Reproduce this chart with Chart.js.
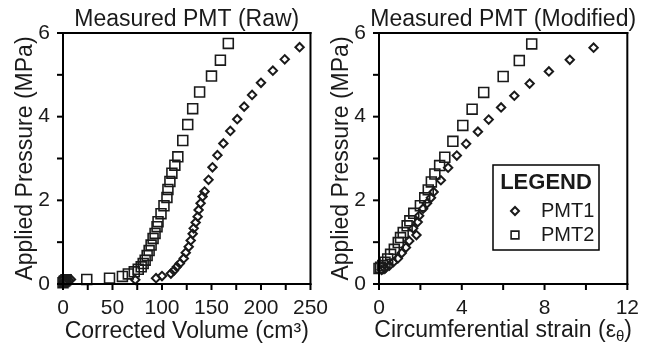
<!DOCTYPE html>
<html>
<head>
<meta charset="utf-8">
<script src="https://cdn.jsdelivr.net/npm/chart.js"></script>
<style>
  body { margin: 0; background: #fff; }
  #wrap { position: relative; width: 651px; height: 347px; }
  canvas { position: absolute; top: 0; }
  #rawChart { left: 0; }
  #modChart { left: 320px; }
</style>
</head>
<body>
<div id="wrap">
  <canvas id="rawChart" width="340" height="347"></canvas>
  <canvas id="modChart" width="331" height="347"></canvas>
</div>
<script>
// Raw panel: corrected volume (cm3) vs applied pressure (MPa)
const rawVolPMT1 = [0, 2, 4, 6, 8, 73, 94, 100, 109, 112, 115, 118, 122, 124, 127, 129, 131, 132, 134, 136, 137, 139, 141, 143, 147, 151, 156, 162, 169, 176, 183, 191, 200, 212, 224, 239];
const rawPresPMT1 = [0.02, 0.04, 0.06, 0.09, 0.11, 0.10, 0.14, 0.19, 0.25, 0.32, 0.41, 0.49, 0.61, 0.75, 0.89, 1.04, 1.20, 1.33, 1.47, 1.61, 1.77, 1.93, 2.09, 2.21, 2.49, 2.79, 3.08, 3.36, 3.66, 3.94, 4.24, 4.52, 4.81, 5.10, 5.37, 5.66];
const rawVolPMT2 = [0, 1, 2, 3, 24, 47, 60, 66, 72, 76, 79, 81, 83, 85, 87, 89, 91, 93, 95, 96, 99, 102, 105, 106, 108, 110, 113, 116, 121, 126, 131, 138, 150, 159, 167];
const rawPresPMT2 = [0.03, 0.06, 0.08, 0.10, 0.11, 0.14, 0.18, 0.24, 0.29, 0.35, 0.41, 0.49, 0.57, 0.68, 0.80, 0.93, 1.09, 1.21, 1.37, 1.49, 1.68, 1.87, 2.07, 2.26, 2.45, 2.65, 2.84, 3.04, 3.43, 3.81, 4.19, 4.59, 4.97, 5.35, 5.75];

// Modified panel: circumferential strain vs applied pressure (MPa)
const modStrainPMT1 = [0.13, 0.29, 0.50, 0.69, 0.91, 1.10, 1.30, 1.46, 1.81, 1.65, 1.87, 1.94, 2.13, 2.32, 2.51, 2.64, 2.99, 3.34, 3.76, 4.21, 4.78, 5.30, 5.90, 6.54, 7.28, 8.21, 9.22, 10.37];
const modPresPMT1 = [0.34, 0.37, 0.44, 0.52, 0.61, 0.74, 0.87, 1.03, 1.17, 1.33, 1.48, 1.63, 1.80, 1.93, 2.06, 2.20, 2.48, 2.78, 3.07, 3.35, 3.64, 3.93, 4.22, 4.50, 4.79, 5.08, 5.36, 5.65];
const modStrainPMT2 = [0, 0.08, 0.18, 0.29, 0.42, 0.56, 0.74, 0.93, 1.04, 1.17, 1.36, 1.49, 1.68, 2.00, 2.21, 2.38, 2.53, 2.70, 2.93, 3.18, 3.57, 4.05, 4.50, 5.06, 6.00, 6.78, 7.38];
const modPresPMT2 = [0.37, 0.40, 0.44, 0.52, 0.60, 0.71, 0.83, 0.99, 1.11, 1.23, 1.39, 1.51, 1.69, 1.87, 2.06, 2.25, 2.44, 2.63, 2.83, 3.03, 3.41, 3.79, 4.18, 4.58, 4.96, 5.34, 5.74];

const seriesNames = ['PMT1', 'PMT2'];
const pressureRange = [0, 6];   // labels every 2, ticks every 1
const volumeRange = [0, 250];   // labels every 50, ticks every 25
const strainRange = [0, 12];    // labels every 4, ticks every 2

const ink = '#000000';
const fontFamily = "'Liberation Sans', Arial, Helvetica, sans-serif";
Chart.defaults.font.family = fontFamily;
Chart.defaults.color = '#1a1a1a';

const pts = (xs, ys) => xs.map((x, i) => ({ x: x, y: ys[i] }));

const diamondStyle = {
  pointStyle: 'rectRot', pointRadius: 4.2, pointBorderWidth: 2,
  borderColor: '#1a1a1a', pointBorderColor: '#1a1a1a',
  backgroundColor: 'rgba(0,0,0,0)', pointBackgroundColor: 'rgba(0,0,0,0)',
  borderWidth: 2, clip: 8
};
const squareStyle = {
  pointStyle: 'rect', pointRadius: 7, pointBorderWidth: 1.6,
  borderColor: '#1a1a1a', pointBorderColor: '#1a1a1a',
  backgroundColor: 'rgba(0,0,0,0)', pointBackgroundColor: 'rgba(0,0,0,0)',
  borderWidth: 1.6, clip: 8
};

// frame, outward ticks and panel title, all from the chart's own scales
const panelFramePlugin = {
  id: 'panelFrame',
  afterDraw(chart, args, opts) {
    const ctx = chart.ctx, a = chart.chartArea;
    ctx.save();
    ctx.fillStyle = ink;
    ctx.fillRect(a.left - 1, a.top - 1, a.right - a.left + 2, 2);
    ctx.fillRect(a.left - 1, a.bottom - 1, a.right - a.left + 2, 2);
    ctx.fillRect(a.left - 1, a.top - 1, 2, a.bottom - a.top + 2);
    ctx.fillRect(a.right - 1, a.top - 1, 2, a.bottom - a.top + 2);
    chart.scales.x.ticks.forEach(t => {
      const px = chart.scales.x.getPixelForValue(t.value);
      ctx.fillRect(px - 1, a.bottom, 2, 6);
    });
    chart.scales.y.ticks.forEach(t => {
      const py = chart.scales.y.getPixelForValue(t.value);
      ctx.fillRect(a.left - 6, py - 1, 6, 2);
    });
    if (opts.text) {
      ctx.fillStyle = '#1a1a1a';
      ctx.font = '23px ' + fontFamily;
      ctx.textAlign = 'center';
      ctx.textBaseline = 'middle';
      ctx.fillText(opts.text, (a.left + a.right) / 2, a.top - 13);
    }
    ctx.restore();
  }
};

function yScale(width, titlePad) {
  return {
    type: 'linear', min: pressureRange[0], max: pressureRange[1],
    ticks: { stepSize: 1, padding: 13, autoSkip: false, font: { size: 21 },
             callback: v => (v % 2 === 0 ? v : '') },
    grid: { display: false, drawTicks: false },
    border: { display: false },
    title: { display: true, text: 'Applied Pressure (MPa)', font: { size: 23 }, padding: { top: titlePad } },
    afterFit: s => { s.width = width; }
  };
}

function xScale(range, step, labelEvery, title) {
  return {
    type: 'linear', position: 'bottom', min: range[0], max: range[1],
    ticks: { stepSize: step, padding: 12, autoSkip: false, maxRotation: 0, font: { size: 21 },
             callback: v => (v % labelEvery === 0 ? v : '') },
    grid: { display: false, drawTicks: false },
    border: { display: false },
    title: { display: !!title, text: title || '', font: { size: 23 }, padding: { bottom: 2 } },
    afterFit: s => { s.height = 63; }
  };
}

function baseOptions(padRight, titleText) {
  return {
    responsive: false, animation: false, devicePixelRatio: 1,
    layout: { padding: { left: 0, right: padRight, top: 33, bottom: 0 } },
    plugins: {
      legend: { display: false },
      tooltip: { enabled: false },
      title: { display: false },
      panelFrame: { text: titleText }
    }
  };
}

// x title with a subscript theta
const strainTitlePlugin = {
  id: 'strainTitle',
  afterDraw(chart) {
    const { ctx, chartArea: a } = chart;
    const main = 'Circumferential strain (\u03B5', sub = '\u03B8', tail = ')';
    const y = chart.scales.x.bottom - 16;
    ctx.save();
    ctx.fillStyle = '#1a1a1a';
    ctx.textBaseline = 'middle';
    ctx.textAlign = 'left';
    ctx.font = '23px ' + fontFamily;
    const w1 = ctx.measureText(main).width, w3 = ctx.measureText(tail).width;
    ctx.font = '15px ' + fontFamily;
    const w2 = ctx.measureText(sub).width;
    let x = (a.left + a.right) / 2 - (w1 + w2 + w3) / 2;
    ctx.font = '23px ' + fontFamily;
    ctx.fillText(main, x, y);
    x += w1;
    ctx.font = '15px ' + fontFamily;
    ctx.fillText(sub, x, y + 6);
    x += w2;
    ctx.font = '23px ' + fontFamily;
    ctx.fillText(tail, x, y);
    ctx.restore();
  }
};

// boxed legend inside the modified panel
const boxLegendPlugin = {
  id: 'boxLegend',
  afterDraw(chart) {
    const { ctx, chartArea: a } = chart;
    const bx = a.left + 114, by = a.top + 132, bw = 106, bh = 85;
    ctx.save();
    ctx.fillStyle = '#fff';
    ctx.fillRect(bx, by, bw, bh);
    ctx.strokeStyle = ink;
    ctx.lineWidth = 1.5;
    ctx.strokeRect(bx, by, bw, bh);
    ctx.fillStyle = '#1a1a1a';
    ctx.textBaseline = 'middle';
    ctx.textAlign = 'center';
    ctx.font = 'bold 22px ' + fontFamily;
    ctx.fillText('LEGEND', bx + bw / 2, by + 18);
    ctx.textAlign = 'left';
    ctx.font = '20px ' + fontFamily;
    const sizes = [4, 5.5];
    chart.data.datasets.forEach((d, i) => {
      const ry = by + 46 + i * 24;
      ctx.strokeStyle = d.borderColor;
      ctx.fillStyle = 'rgba(0,0,0,0)';
      ctx.lineWidth = d.borderWidth;
      Chart.helpers.drawPoint(ctx, { pointStyle: d.pointStyle, radius: sizes[i], rotation: 0, borderWidth: d.borderWidth }, bx + 22, ry);
      ctx.fillStyle = '#1a1a1a';
      ctx.fillText(d.label, bx + 48, ry);
    });
    ctx.restore();
  }
};

const rawOpts = baseOptions(27, 'Measured PMT (Raw)');
rawOpts.scales = {
  x: xScale(volumeRange, 25, 50, 'Corrected Volume (cm\u00B3)'),
  y: yScale(63, 12)
};
new Chart(document.getElementById('rawChart'), {
  type: 'scatter',
  data: { datasets: [
    Object.assign({ label: seriesNames[0], data: pts(rawVolPMT1, rawPresPMT1) }, diamondStyle),
    Object.assign({ label: seriesNames[1], data: pts(rawVolPMT2, rawPresPMT2) }, squareStyle)
  ] },
  options: rawOpts,
  plugins: [panelFramePlugin]
});

const modOpts = baseOptions(22, 'Measured PMT (Modified)');
modOpts.scales = {
  x: xScale(strainRange, 2, 4, ''),
  y: yScale(59, 8)
};
new Chart(document.getElementById('modChart'), {
  type: 'scatter',
  data: { datasets: [
    Object.assign({ label: seriesNames[0], data: pts(modStrainPMT1, modPresPMT1) }, diamondStyle),
    Object.assign({ label: seriesNames[1], data: pts(modStrainPMT2, modPresPMT2) }, squareStyle)
  ] },
  options: modOpts,
  plugins: [panelFramePlugin, strainTitlePlugin, boxLegendPlugin]
});
</script>
</body>
</html>
